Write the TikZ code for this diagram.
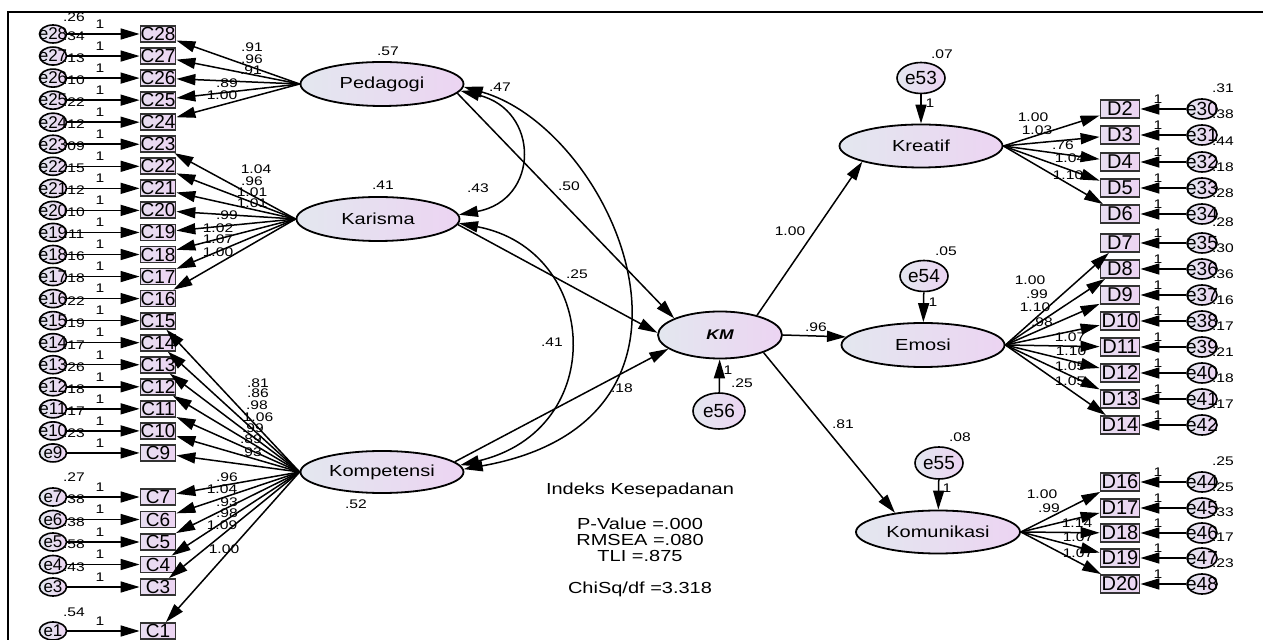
\documentclass[tikz,border=0pt]{standalone}
\usepackage{fontspec}
\setmainfont{Liberation Sans}
\usepackage{graphicx}
\usetikzlibrary{shapes.geometric,arrows.meta}
\definecolor{gL}{HTML}{E3E7EF}
\definecolor{gR}{HTML}{ECD4F2}
\newcommand{\hs}[1]{\scalebox{1.25}[1]{#1}}
\begin{document}
\begin{tikzpicture}[x=0.5pt,y=-0.5pt,
  lat/.style={ellipse,draw=black,line width=0.9pt,left color=gL,right color=gR,minimum width=81.5pt,minimum height=22pt,inner sep=0pt,font=\fontsize{8}{9}\selectfont},
  errL/.style={ellipse,draw=black,line width=0.8pt,left color=gL,right color=gR,minimum width=13.5pt,minimum height=9pt,inner sep=0pt,font=\fontsize{8.5}{9}\selectfont},
  errR/.style={errL,minimum width=15pt,minimum height=10pt,font=\fontsize{9.5}{10}\selectfont},
  errS/.style={errL,minimum width=24pt,minimum height=15.5pt,font=\fontsize{9.5}{10}\selectfont},
  obs/.style={rectangle,draw=black!80,line width=0.9pt,left color=gL!50!gR,right color=gR,minimum width=17.5pt,minimum height=8pt,inner sep=0pt,font=\fontsize{9.5}{9}\selectfont},
  obsR/.style={obs,minimum width=19.5pt,minimum height=9pt,font=\fontsize{10}{10}\selectfont},
  num/.style={inner sep=0pt,font=\fontsize{6.25}{6.5}\selectfont},
  big/.style={inner sep=0pt,font=\fontsize{8}{9}\selectfont},
  arr/.style={line width=0.75pt,-{Triangle[length=9.5pt,width=5.5pt]}},
  cov/.style={line width=0.75pt,{Triangle[length=9.5pt,width=5.5pt]}-{Triangle[length=9.5pt,width=5.5pt]}}
]
\fill[white] (0,0) rectangle (1263,640);
\useasboundingbox (0,0) rectangle (1263,640);

% ---------- left variance labels ----------
\foreach \k/\v [count=\i from 0] in {28/.26,27/.34,26/.13,25/.10,24/.22,23/.12,22/.09,21/.15,20/.12,19/.10,18/.11,17/.16,16/.18,15/.22,14/.19,13/.17,12/.26,11/.18,10/.17,9/.23}{
  \pgfmathsetmacro\yy{34+22.05*\i}
  \node[num] (v\k) at (74,{max(\yy-20,17)}) {\hs{\v}};
}
\foreach \k/\v [count=\i from 0] in {7/.27,6/.38,5/.38,4/.58,3/.43}{
  \pgfmathsetmacro\yy{497+22.5*\i}
  \node[num] (v\k) at (74,\yy-20) {\hs{\v}};
}
\node[num] (v1) at (74,612) {\hs{.54}};

% ---------- left error circles and boxes ----------
\foreach \k [count=\i from 0] in {28,27,...,9}{
  \pgfmathsetmacro\yy{34+22.05*\i}
  \node[errL] (e\k) at (53,\yy) {\makebox[0pt]{e\k}};
  \node[obs] (C\k) at (158,\yy) {C\k};
  \node[num] (o\k) at (100,\yy-10) {\hs{1}};
  \draw[arr] (e\k) -- (C\k);
}
\foreach \k [count=\i from 0] in {7,6,5,4,3}{
  \pgfmathsetmacro\yy{497+22.5*\i}
  \node[errL] (e\k) at (53,\yy) {\makebox[0pt]{e\k}};
  \node[obs] (C\k) at (158,\yy) {C\k};
  \node[num] (o\k) at (100,\yy-10) {\hs{1}};
  \draw[arr] (e\k) -- (C\k);
}
\node[errL] (e1) at (53,631) {\makebox[0pt]{e1}};
\node[obs] (C1) at (158,631) {C1};
\node[num] (o1) at (100,621) {\hs{1}};
\draw[arr] (e1) -- (C1);

% ---------- latent variables ----------
\node[lat] (Ped) at (382,84) {\hs{Pedagogi}};
\node[lat] (Kar) at (378,219) {\hs{Karisma}};
\node[lat,minimum height=21pt] (Komp) at (382,472) {\hs{Kompetensi}};
\node[lat,minimum width=62pt,minimum height=23.5pt,font=\fontsize{7}{8}\selectfont] (KM) at (720,335) {\hs{\bfseries\itshape KM}};
\node[lat,minimum height=21.5pt] (Kre) at (921,146) {\hs{Kreatif}};
\node[lat] (Emo) at (923,345) {\hs{Emosi}};
\node[lat,minimum width=82pt,minimum height=21.5pt] (Kom) at (938,532) {\hs{Komunikasi}};

\node[num] (vPed) at (388,51) {\hs{.57}};
\node[num] (vKar) at (383,185) {\hs{.41}};
\node[num] (vKomp) at (356,504) {\hs{.52}};

% ---------- left loadings ----------
\foreach \k in {28,27,...,24}{ \draw[arr] (Ped.west) -- (C\k); }
\foreach \k in {23,22,...,16}{ \draw[arr] (Kar.west) -- (C\k); }
\foreach \k in {15,14,...,9,7,6,5,4,3,1}{ \draw[arr] (Komp.west) -- (C\k); }

\foreach \t/\x/\y [count=\i] in {.91/252/47,.96/252/59,.91/251/70,.89/227/83,1.00/222/95}{
  \node[num] (lp\i) at (\x,\y) {\hs{\t}};
}
\foreach \t/\x/\y [count=\i] in {1.04/256/169,.96/252/181,1.01/252/192,1.01/252/203,.99/227/215,1.02/218/228,1.07/218/239,1.00/218/252}{
  \node[num] (lk\i) at (\x,\y) {\hs{\t}};
}
\foreach \t/\x/\y [count=\i] in {.81/258/383,.86/258/393,.98/257/405,1.06/258/417,.99/253/428,.89/251/439,.93/251/452,.96/227/477,1.04/222/489,.93/227/502,.98/227/513,1.09/222/525,1.00/224/549}{
  \node[num] (lc\i) at (\x,\y) {\hs{\t}};
}

% ---------- right variance labels ----------
\foreach \e/\y/\v in {30/109/.31,31/135/.38,32/162/.44,33/188/.18,34/214/.28,35/243/.28,36/269/.30,37/295/.36,38/321/.16,39/347/.17,40/373/.21,41/399/.18,42/425/.17,44/482/.25,45/508/.25,46/533/.33,47/558/.17,48/584/.23}{
  \node[num] (v\e) at (1223,\y-21) {\hs{\v}};
}

% ---------- right boxes and errors ----------
\foreach \d/\e/\y in {2/30/109,3/31/135,4/32/162,5/33/188,6/34/214,7/35/243,8/36/269,9/37/295,10/38/321,11/39/347,12/40/373,13/41/399,14/42/425,16/44/482,17/45/508,18/46/533,19/47/558,20/48/584}{
  \node[obsR] (D\d) at (1120,\y) {D\d};
  \node[errR] (e\e) at (1202,\y) {\makebox[0pt]{e\e}};
  \node[num] (o\e) at (1158,\y-10) {\hs{1}};
  \draw[arr] (e\e) -- (D\d);
}
\foreach \d in {2,...,6}{ \draw[arr] (Kre.east) -- (D\d); }
\foreach \d in {7,...,14}{ \draw[arr] (Emo.east) -- (D\d); }
\foreach \d in {16,...,20}{ \draw[arr] (Kom.east) -- (D\d); }

\foreach \t/\x/\y [count=\i] in {1.00/1033/117,1.03/1037/130,.76/1063/145,1.04/1070/158,1.10/1068/175}{
  \node[num] (lr\i) at (\x,\y) {\hs{\t}};
}
\foreach \t/\x/\y [count=\i] in {1.00/1030/280,.99/1037/294,1.10/1035/307,.98/1042/322,1.07/1070/337,1.10/1071/351,1.05/1070/366,1.05/1070/381}{
  \node[num] (le\i) at (\x,\y) {\hs{\t}};
}
\foreach \t/\x/\y [count=\i] in {1.00/1042/494,.99/1049/508,1.14/1077/523,1.07/1078/537,1.07/1078/553}{
  \node[num] (lm\i) at (\x,\y) {\hs{\t}};
}

% ---------- disturbances ----------
\node[errS] (e53) at (921,78) {\makebox[0pt]{e53}};
\node[errS] (e54) at (924,276) {\makebox[0pt]{e54}};
\node[errS,minimum height=16pt] (e55) at (939,463) {\makebox[0pt]{e55}};
\node[errS,minimum width=26pt,minimum height=18pt] (e56) at (719,411) {\makebox[0pt]{e56}};
\draw[arr] (e53) -- (Kre);
\draw[arr] (e54) -- (Emo);
\draw[arr] (e55) -- (Kom);
\draw[arr] (e56) -- (KM);
\node[num] (v53) at (942,54) {\hs{.07}};
\node[num] (v54) at (946,251) {\hs{.05}};
\node[num] (v55) at (960,437) {\hs{.08}};
\node[num] (v56) at (742,383) {\hs{.25}};
\node[num] (o53) at (930,103) {\hs{1}};
\node[num] (o54) at (933,302) {\hs{1}};
\node[num] (o55) at (947,488) {\hs{1}};
\node[num] (o56) at (728,370) {\hs{1}};

% ---------- structural paths ----------
\draw[arr] (Ped.-7) -- (KM.160);
\draw[arr] (Kar.-4) -- (KM.178);
\draw[arr] (Komp.8) -- (KM.195);
\draw[arr] (KM.28) -- (Kre.195);
\draw[arr] (KM.east) -- (Emo.174);
\draw[arr] (KM.-22) -- (Kom.156);
\draw[cov] (Ped.-5) .. controls (540,110) and (540,200) .. (Kar.3);
\draw[cov] (Ped.-2) .. controls (615,130) and (740,420) .. (Komp.2);
\draw[cov] (Kar.-3) .. controls (600,250) and (610,430) .. (Komp.5);

\node[num] (s50) at (569,186) {\hs{.50}};
\node[num] (s25) at (577,274) {\hs{.25}};
\node[num] (s18) at (622,388) {\hs{.18}};
\node[num] (s41) at (552,342) {\hs{.41}};
\node[num] (s43) at (478,188) {\hs{.43}};
\node[num] (s47) at (500,87) {\hs{.47}};
\node[num] (s100) at (790,231) {\hs{1.00}};
\node[num] (s96) at (816,327) {\hs{.96}};
\node[num] (s81) at (843,424) {\hs{.81}};

% ---------- fit indices ----------
\node[big] (ix1) at (640,490) {\hs{Indeks Kesepadanan}};
\node[big] (ix2) at (640,524) {\hs{P-Value =.000}};
\node[big] (ix3) at (640,540) {\hs{RMSEA =.080}};
\node[big] (ix4) at (640,556) {\hs{TLI =.875}};
\node[big] (ix5) at (640,589) {\hs{ChiSq/df =3.318}};

% ---------- frame ----------
\draw[line width=1pt] (8,640) -- (8,12) -- (1263,12);
\end{tikzpicture}
\end{document}
